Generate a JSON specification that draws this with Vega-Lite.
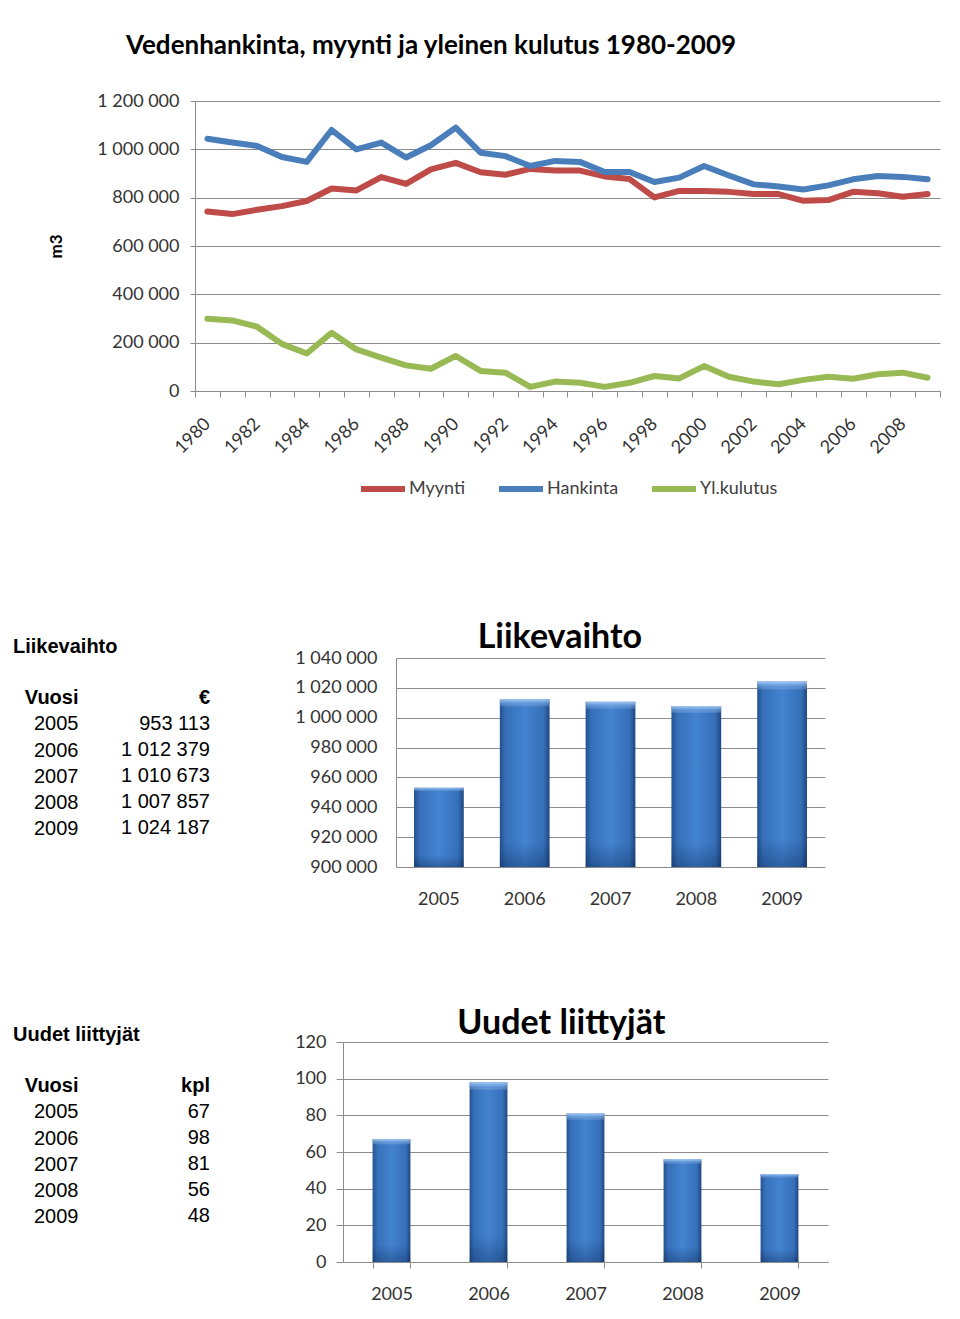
{
  "$schema": "https://vega.github.io/schema/vega-lite/v6.json",
  "background": "white",
  "padding": {"left": 13, "top": 33, "right": 5, "bottom": 5},
  "config": {
    "view": {"stroke": null},
    "font": "Lato",
    "locale": {"number": {"decimal": ",", "thousands": "\u00a0", "grouping": [3], "currency": ["", "\u00a0€"]}},
    "axis": {"labelFont": "Lato", "labelFontSize": 18, "labelColor": "#333333", "gridColor": "#8c8c8c", "domainColor": "#8c8c8c", "tickColor": "#8c8c8c", "titleFont": "Lato", "titleColor": "#000000"},
    "legend": {"labelFont": "Lato", "labelFontSize": 18, "labelColor": "#404040", "layout": {"bottom": {"anchor": "middle"}}}
  },
  "datasets": {
    "vesi": [
      {"year": "1980", "series": "Myynti", "m3": 743000},
      {"year": "1981", "series": "Myynti", "m3": 732000},
      {"year": "1982", "series": "Myynti", "m3": 750000},
      {"year": "1983", "series": "Myynti", "m3": 765000},
      {"year": "1984", "series": "Myynti", "m3": 786000},
      {"year": "1985", "series": "Myynti", "m3": 838000},
      {"year": "1986", "series": "Myynti", "m3": 830000},
      {"year": "1987", "series": "Myynti", "m3": 885000},
      {"year": "1988", "series": "Myynti", "m3": 857000},
      {"year": "1989", "series": "Myynti", "m3": 917000},
      {"year": "1990", "series": "Myynti", "m3": 944000},
      {"year": "1991", "series": "Myynti", "m3": 905000},
      {"year": "1992", "series": "Myynti", "m3": 895000},
      {"year": "1993", "series": "Myynti", "m3": 919000},
      {"year": "1994", "series": "Myynti", "m3": 912000},
      {"year": "1995", "series": "Myynti", "m3": 912000},
      {"year": "1996", "series": "Myynti", "m3": 888000},
      {"year": "1997", "series": "Myynti", "m3": 877000},
      {"year": "1998", "series": "Myynti", "m3": 801000},
      {"year": "1999", "series": "Myynti", "m3": 828000},
      {"year": "2000", "series": "Myynti", "m3": 828000},
      {"year": "2001", "series": "Myynti", "m3": 824000},
      {"year": "2002", "series": "Myynti", "m3": 815000},
      {"year": "2003", "series": "Myynti", "m3": 815000},
      {"year": "2004", "series": "Myynti", "m3": 787000},
      {"year": "2005", "series": "Myynti", "m3": 790000},
      {"year": "2006", "series": "Myynti", "m3": 824000},
      {"year": "2007", "series": "Myynti", "m3": 818000},
      {"year": "2008", "series": "Myynti", "m3": 804000},
      {"year": "2009", "series": "Myynti", "m3": 815000},
      {"year": "1980", "series": "Hankinta", "m3": 1044000},
      {"year": "1981", "series": "Hankinta", "m3": 1028000},
      {"year": "1982", "series": "Hankinta", "m3": 1014000},
      {"year": "1983", "series": "Hankinta", "m3": 968000},
      {"year": "1984", "series": "Hankinta", "m3": 948000},
      {"year": "1985", "series": "Hankinta", "m3": 1080000},
      {"year": "1986", "series": "Hankinta", "m3": 1000000},
      {"year": "1987", "series": "Hankinta", "m3": 1028000},
      {"year": "1988", "series": "Hankinta", "m3": 966000},
      {"year": "1989", "series": "Hankinta", "m3": 1017000},
      {"year": "1990", "series": "Hankinta", "m3": 1090000},
      {"year": "1991", "series": "Hankinta", "m3": 986000},
      {"year": "1992", "series": "Hankinta", "m3": 972000},
      {"year": "1993", "series": "Hankinta", "m3": 931000},
      {"year": "1994", "series": "Hankinta", "m3": 952000},
      {"year": "1995", "series": "Hankinta", "m3": 948000},
      {"year": "1996", "series": "Hankinta", "m3": 906000},
      {"year": "1997", "series": "Hankinta", "m3": 906000},
      {"year": "1998", "series": "Hankinta", "m3": 865000},
      {"year": "1999", "series": "Hankinta", "m3": 883000},
      {"year": "2000", "series": "Hankinta", "m3": 931000},
      {"year": "2001", "series": "Hankinta", "m3": 892000},
      {"year": "2002", "series": "Hankinta", "m3": 855000},
      {"year": "2003", "series": "Hankinta", "m3": 846000},
      {"year": "2004", "series": "Hankinta", "m3": 834000},
      {"year": "2005", "series": "Hankinta", "m3": 851000},
      {"year": "2006", "series": "Hankinta", "m3": 876000},
      {"year": "2007", "series": "Hankinta", "m3": 890000},
      {"year": "2008", "series": "Hankinta", "m3": 886000},
      {"year": "2009", "series": "Hankinta", "m3": 876000},
      {"year": "1980", "series": "Yl.kulutus", "m3": 299000},
      {"year": "1981", "series": "Yl.kulutus", "m3": 292000},
      {"year": "1982", "series": "Yl.kulutus", "m3": 266000},
      {"year": "1983", "series": "Yl.kulutus", "m3": 195000},
      {"year": "1984", "series": "Yl.kulutus", "m3": 155000},
      {"year": "1985", "series": "Yl.kulutus", "m3": 241000},
      {"year": "1986", "series": "Yl.kulutus", "m3": 172000},
      {"year": "1987", "series": "Yl.kulutus", "m3": 138000},
      {"year": "1988", "series": "Yl.kulutus", "m3": 106000},
      {"year": "1989", "series": "Yl.kulutus", "m3": 92000},
      {"year": "1990", "series": "Yl.kulutus", "m3": 145000},
      {"year": "1991", "series": "Yl.kulutus", "m3": 83000},
      {"year": "1992", "series": "Yl.kulutus", "m3": 76000},
      {"year": "1993", "series": "Yl.kulutus", "m3": 17000},
      {"year": "1994", "series": "Yl.kulutus", "m3": 39000},
      {"year": "1995", "series": "Yl.kulutus", "m3": 34000},
      {"year": "1996", "series": "Yl.kulutus", "m3": 17000},
      {"year": "1997", "series": "Yl.kulutus", "m3": 34000},
      {"year": "1998", "series": "Yl.kulutus", "m3": 62000},
      {"year": "1999", "series": "Yl.kulutus", "m3": 52000},
      {"year": "2000", "series": "Yl.kulutus", "m3": 103000},
      {"year": "2001", "series": "Yl.kulutus", "m3": 59000},
      {"year": "2002", "series": "Yl.kulutus", "m3": 39000},
      {"year": "2003", "series": "Yl.kulutus", "m3": 28000},
      {"year": "2004", "series": "Yl.kulutus", "m3": 46000},
      {"year": "2005", "series": "Yl.kulutus", "m3": 59000},
      {"year": "2006", "series": "Yl.kulutus", "m3": 51000},
      {"year": "2007", "series": "Yl.kulutus", "m3": 69000},
      {"year": "2008", "series": "Yl.kulutus", "m3": 76000},
      {"year": "2009", "series": "Yl.kulutus", "m3": 55000}
    ],
    "liike": [
      {"Vuosi": "2005", "eur": 953113},
      {"Vuosi": "2006", "eur": 1012379},
      {"Vuosi": "2007", "eur": 1010673},
      {"Vuosi": "2008", "eur": 1007857},
      {"Vuosi": "2009", "eur": 1024187}
    ],
    "liittyjat": [
      {"Vuosi": "2005", "kpl": 67},
      {"Vuosi": "2006", "kpl": 98},
      {"Vuosi": "2007", "kpl": 81},
      {"Vuosi": "2008", "kpl": 56},
      {"Vuosi": "2009", "kpl": 48}
    ]
  },
  "spacing": 120,
  "resolve": {"legend": {"color": "independent"}},
  "vconcat": [
    {
      "resolve": {"legend": {"color": "independent"}},
      "hconcat": [
        {
          "width": 745,
          "height": 290,
          "data": {"name": "vesi"},
          "title": {"text": "Vedenhankinta, myynti ja yleinen kulutus 1980-2009", "anchor": "start", "frame": "group", "dx": -69, "font": "Lato", "fontSize": 26, "fontWeight": "bold", "color": "#000000", "offset": 33},
          "mark": {"type": "line", "strokeWidth": 6, "strokeCap": "round", "strokeJoin": "round"},
          "encoding": {
            "x": {
              "field": "year", "type": "ordinal", "bandPosition": 0.5,
              "scale": {"type": "band", "paddingInner": 0, "paddingOuter": 0},
              "axis": {"title": null, "tickBand": "extent", "tickSize": 6, "labelAngle": -45, "labelAlign": "right", "labelBaseline": "middle", "labelPadding": 24, "labelOverlap": false, "labelExpr": "toNumber(datum.value) % 2 == 0 ? datum.label : ''", "grid": false}
            },
            "y": {
              "field": "m3", "type": "quantitative",
              "scale": {"domain": [0, 1200000], "nice": false},
              "axis": {"values": [0, 200000, 400000, 600000, 800000, 1000000, 1200000], "format": ",d", "tickSize": 5, "labelPadding": 11, "title": "m3", "titleFontSize": 17, "titleFontWeight": "bold", "titlePadding": 31}
            },
            "color": {
              "field": "series", "type": "nominal",
              "scale": {"domain": ["Myynti", "Hankinta", "Yl.kulutus"], "range": ["#BE4B48", "#4A7EBB", "#98B954"]},
              "legend": {"orient": "bottom", "direction": "horizontal", "title": null, "symbolType": "stroke", "symbolStrokeWidth": 6, "symbolSize": 1936, "labelOffset": 1, "columnPadding": 21, "offset": 7}
            }
          }
        }
      ]
    },
    {
      "spacing": 99,
      "vconcat": [
        {
          "bounds": "flush",
          "spacing": 171,
          "hconcat": [
            {
              "width": 30,
              "height": 184,
              "title": {"text": "Liikevaihto", "anchor": "start", "frame": "group", "dx": -182, "font": "Liberation Sans", "fontSize": 20, "fontWeight": "bold", "color": "#000000", "offset": 1},
              "encoding": {
                "y": {"field": "Vuosi", "type": "ordinal", "scale": {"domain": [" ", "Vuosi", "2005", "2006", "2007", "2008", "2009"], "padding": 0.538},
                  "axis": {"title": null, "domain": false, "ticks": false, "grid": false, "labelOverlap": false, "labelPadding": 117, "labelAlign": "right", "labelBaseline": "middle", "labelFont": "Liberation Sans", "labelFontSize": 20, "labelColor": "#000000", "labelFontWeight": {"condition": {"test": "datum.value === 'Vuosi'", "value": "bold"}, "value": "normal"}}}
              },
              "layer": [
                {
                  "data": {"values": [{"Vuosi": "Vuosi", "label": "€"}]},
                  "mark": {"type": "text", "align": "right", "baseline": "middle", "font": "Liberation Sans", "fontSize": 20, "fontWeight": "bold", "color": "#000000"},
                  "encoding": {
                    "x": {"datum": "€", "type": "ordinal", "scale": {"domain": ["€"]}, "axis": null},
                    "text": {"field": "label"}
                  }
                },
                {
                  "data": {"name": "liike"},
                  "mark": {"type": "text", "align": "right", "baseline": "middle", "font": "Liberation Sans", "fontSize": 20, "color": "#000000"},
                  "encoding": {
                    "x": {"datum": "€", "type": "ordinal"},
                    "text": {"field": "eur", "type": "quantitative", "format": ",d"}
                  }
                }
              ]
            },
            {
              "width": 429,
              "height": 209,
              "data": {"name": "liike"},
              "title": {"text": "Liikevaihto", "anchor": "middle", "frame": "bounds", "font": "Lato", "fontSize": 34, "fontWeight": "bold", "color": "#000000", "offset": -6},
              "encoding": {
                "x": {"field": "Vuosi", "type": "ordinal", "scale": {"paddingInner": 0.42, "paddingOuter": 0.21}, "axis": {"title": null, "labelAngle": 0, "ticks": false, "tickSize": 0, "domain": false, "labelPadding": 23}},
                "y": {"field": "eur", "type": "quantitative", "scale": {"domain": [900000, 1040000], "nice": false, "zero": false}, "axis": {"values": [900000, 920000, 940000, 960000, 980000, 1000000, 1020000, 1040000], "format": ",d", "ticks": false, "tickSize": 0, "labelPadding": 19, "title": null}},
                "y2": {"datum": 900000}
              },
              "layer": [
                {"mark": {"type": "bar", "fill": {"gradient": "linear", "x1": 0, "x2": 1, "y1": 0, "y2": 0, "stops": [{"offset": 0, "color": "#24518f"}, {"offset": 0.12, "color": "#3670b9"}, {"offset": 0.5, "color": "#4383d0"}, {"offset": 0.88, "color": "#3670b9"}, {"offset": 1, "color": "#1f4781"}]}}},
                {"mark": {"type": "bar", "fill": {"gradient": "linear", "x1": 0, "x2": 0, "y1": 0, "y2": 1, "stops": [{"offset": 0, "color": "rgba(170,205,245,0.95)"}, {"offset": 0.03, "color": "rgba(120,170,230,0.45)"}, {"offset": 0.045, "color": "rgba(255,255,255,0)"}, {"offset": 0.85, "color": "rgba(0,20,60,0)"}, {"offset": 1, "color": "rgba(0,20,60,0.3)"}]}}}
              ]
            }
          ]
        },
        {
          "bounds": "flush",
          "spacing": 118,
          "hconcat": [
            {
              "width": 30,
              "height": 192,
              "title": {"text": "Uudet liittyjät", "anchor": "start", "frame": "group", "dx": -182, "font": "Liberation Sans", "fontSize": 20, "fontWeight": "bold", "color": "#000000", "offset": -3},
              "encoding": {
                "y": {"field": "Vuosi", "type": "ordinal", "scale": {"domain": [" ", "Vuosi", "2005", "2006", "2007", "2008", "2009"], "padding": 0.692},
                  "axis": {"title": null, "domain": false, "ticks": false, "grid": false, "labelOverlap": false, "labelPadding": 117, "labelAlign": "right", "labelBaseline": "middle", "labelFont": "Liberation Sans", "labelFontSize": 20, "labelColor": "#000000", "labelFontWeight": {"condition": {"test": "datum.value === 'Vuosi'", "value": "bold"}, "value": "normal"}}}
              },
              "layer": [
                {
                  "data": {"values": [{"Vuosi": "Vuosi", "label": "kpl"}]},
                  "mark": {"type": "text", "align": "right", "baseline": "middle", "font": "Liberation Sans", "fontSize": 20, "fontWeight": "bold", "color": "#000000"},
                  "encoding": {
                    "x": {"datum": "kpl", "type": "ordinal", "scale": {"domain": ["kpl"]}, "axis": null},
                    "text": {"field": "label"}
                  }
                },
                {
                  "data": {"name": "liittyjat"},
                  "mark": {"type": "text", "align": "right", "baseline": "middle", "font": "Liberation Sans", "fontSize": 20, "color": "#000000"},
                  "encoding": {
                    "x": {"datum": "kpl", "type": "ordinal"},
                    "text": {"field": "kpl", "type": "quantitative"}
                  }
                }
              ]
            },
            {
              "width": 485,
              "height": 220,
              "data": {"name": "liittyjat"},
              "title": {"text": "Uudet liittyjät", "anchor": "middle", "frame": "bounds", "font": "Lato", "fontSize": 34, "fontWeight": "bold", "color": "#000000", "offset": -8},
              "encoding": {
                "x": {"field": "Vuosi", "type": "ordinal", "scale": {"paddingInner": 0.61, "paddingOuter": 0.305}, "axis": {"title": null, "labelAngle": 0, "tickBand": "extent", "tickSize": 6, "labelPadding": 17}},
                "y": {"field": "kpl", "type": "quantitative", "scale": {"domain": [0, 120], "nice": false}, "axis": {"values": [0, 20, 40, 60, 80, 100, 120], "tickSize": 7, "labelPadding": 10, "title": null}}
              },
              "layer": [
                {"mark": {"type": "bar", "fill": {"gradient": "linear", "x1": 0, "x2": 1, "y1": 0, "y2": 0, "stops": [{"offset": 0, "color": "#24518f"}, {"offset": 0.12, "color": "#3670b9"}, {"offset": 0.5, "color": "#4383d0"}, {"offset": 0.88, "color": "#3670b9"}, {"offset": 1, "color": "#1f4781"}]}}},
                {"mark": {"type": "bar", "fill": {"gradient": "linear", "x1": 0, "x2": 0, "y1": 0, "y2": 1, "stops": [{"offset": 0, "color": "rgba(170,205,245,0.95)"}, {"offset": 0.03, "color": "rgba(120,170,230,0.45)"}, {"offset": 0.045, "color": "rgba(255,255,255,0)"}, {"offset": 0.85, "color": "rgba(0,20,60,0)"}, {"offset": 1, "color": "rgba(0,20,60,0.3)"}]}}}
              ]
            }
          ]
        }
      ]
    }
  ]
}
